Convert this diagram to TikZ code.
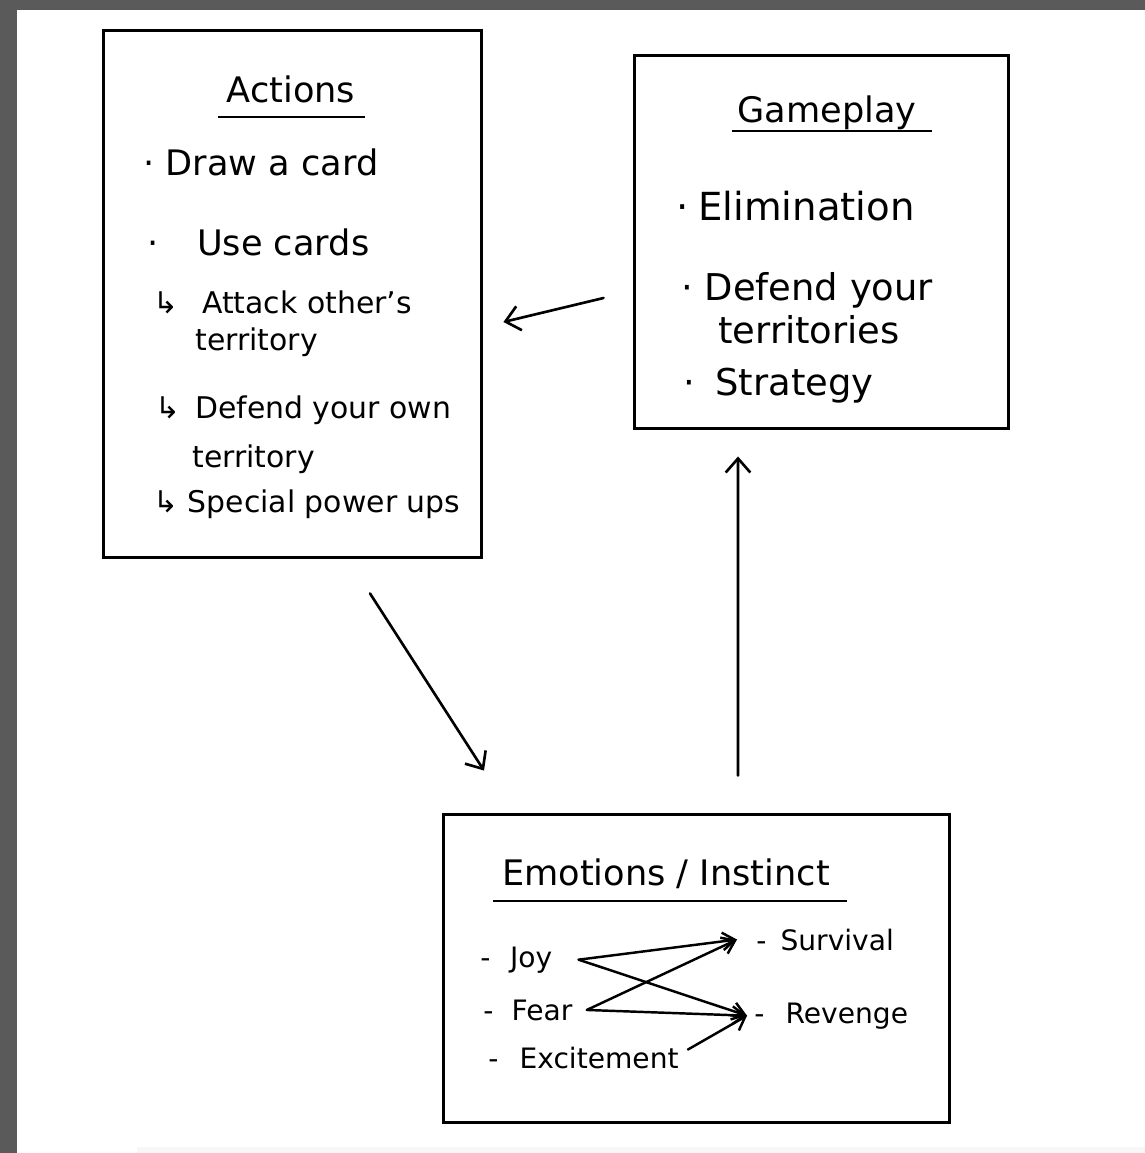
\documentclass[tikz,border=0pt]{standalone}
\usepackage{fontspec}
\setmainfont{DejaVu Sans}
\usetikzlibrary{positioning,arrows.meta}

\definecolor{framegray}{HTML}{5A5A5A}

\tikzset{
  box/.style={draw, line width=1.7pt, inner sep=0pt},
  head/.style={inner sep=0pt, anchor=base, font=\fontsize{20}{24}\selectfont},
  item/.style={inner sep=0pt, anchor=base west, font=\fontsize{20}{24}\selectfont},
  subitem/.style={inner sep=0pt, anchor=base west, font=\fontsize{17}{20}\selectfont},
  small/.style={inner sep=0pt, anchor=base west, font=\fontsize{16}{19}\selectfont},
  rule/.style={line width=1.6pt},
  link/.style={->, line width=1.5pt, line cap=round},
  smalllink/.style={-{Straight Barb[length=7pt,width=10pt]}, line width=1.4pt, line cap=round}
}

\begin{document}
\begin{tikzpicture}[x=0.02cm, y=-0.02cm, >={Straight Barb[length=8pt,width=14pt]}]

% page and frame
\useasboundingbox (0,0) rectangle (1145,1153);
\fill[white] (0,0) rectangle (1145,1153);
\fill[framegray] (0,0) rectangle (1145,10);
\fill[framegray] (0,0) rectangle (17,1153);
\fill[black!3] (137,1147) rectangle (1145,1153);

% boxes
\node[box, minimum width=7.56cm, minimum height=10.56cm] (actions) at (292.5,294) {};
\node[box, minimum width=7.5cm, minimum height=7.48cm] (gameplay) at (821.5,242) {};
\node[box, minimum width=10.14cm, minimum height=6.18cm] (emotions) at (696.5,968.5) {};

% titles
\node[head] (actions-title) at (291,102) {Actions};
\draw[rule] (218,117) -- (365,117);
\node[head] (gameplay-title) at (827,122) {Gameplay};
\draw[rule] (732,131) -- (932,131);
\node[head] (emotions-title) at (666,885) {Emotions / Instinct};
\draw[rule] (493,901) -- (847,901);

% Actions list
\node[item] (draw) at (143,175) {· Draw a card};
\node[item] (use) at (147,255) {·\hspace{1.1em}Use cards};
\foreach \x/\y/\t [count=\i] in {153/313/{↳\hspace{.8em}Attack other's}, 195/350/territory,
    155/418/{↳\hspace{.5em}Defend your own}, 192/467/territory, 153/512/{↳ Special power ups}}
  \node[subitem] (sub-\i) at (\x,\y) {\t};

% Gameplay list
\foreach \x/\y/\t/\s [count=\i] in {676/220/{·\hspace{.25em}Elimination}/22, 681/300/{· Defend your}/21,
    718/343/territories/21, 683/395/{·\hspace{.55em}Strategy}/21}
  \node[item, font=\fontsize{\s}{\s}\selectfont] (play-\i) at (\x,\y) {\t};

% Emotions list
\node[small] (joy) at (480,967) {-\hspace{.7em}Joy};
\node[small] (fear) at (483,1020) {-\hspace{.65em}Fear};
\node[small] (excite) at (488,1068) {-\hspace{.75em}Excitement};
\node[small] (survival) at (756,950) {-\hspace{.5em}Survival};
\node[small] (revenge) at (754,1023) {-\hspace{.75em}Revenge};

% links between boxes
\draw[link] ([shift={(-29,56)}]gameplay.west) -- ([shift={(20.5,28)}]actions.east);
\draw[link] ([shift={(77.5,34)}]actions.south) -- ([shift={(-212.5,-42)}]emotions.north);
\draw[link] ([shift={(41.5,-37)}]emotions.north) -- ([shift={(-83.5,26)}]gameplay.south);

% emotions to instincts
\foreach \a/\sa/\b/\sb in {joy/26/survival/-19, joy/26/revenge/-7, fear/14/survival/-19, fear/14/revenge/-7}
  \draw[smalllink] ([xshift=\sa*0.02cm]\a.east) -- ([xshift=\sb*0.02cm]\b.west);
\draw[smalllink] ([shift={(9,-8)}]excite.east) -- ([xshift=-0.14cm]revenge.west);

\end{tikzpicture}
\end{document}
